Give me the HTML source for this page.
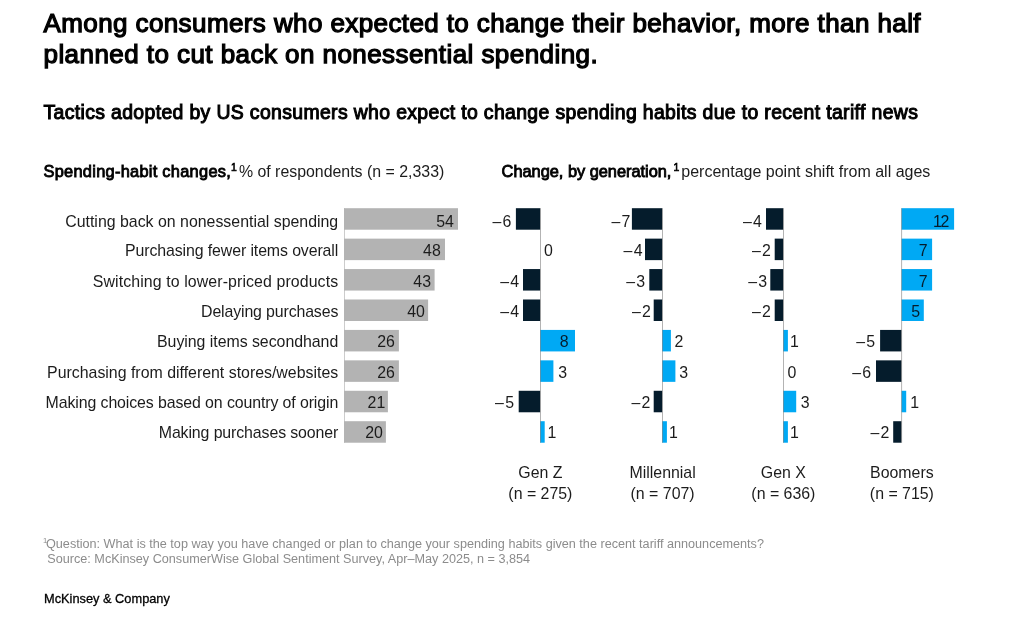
<!DOCTYPE html>
<html><head><meta charset="utf-8"><title>chart</title>
<style>
html,body{margin:0;padding:0;background:#fff;}
body{width:1023px;height:618px;position:relative;overflow:hidden;font-family:"Liberation Sans",sans-serif;color:#1c1c1c;}
.t{position:absolute;white-space:nowrap;line-height:1;}
.b{font-weight:bold;}
svg{position:absolute;left:0;top:0;}
#tx{position:absolute;left:0;top:0;width:1023px;height:618px;will-change:transform;}
.s{font-size:10.2px;font-weight:bold;position:relative;top:-6.4px;}
</style></head><body>
<svg width="1023" height="618" viewBox="0 0 1023 618">
<rect x="344.00" y="208.20" width="1.00" height="234.51" fill="#cccccc"/>
<rect x="344.00" y="208.20" width="114.00" height="21.50" fill="#b3b3b3"/>
<rect x="344.00" y="238.63" width="101.00" height="21.50" fill="#b3b3b3"/>
<rect x="344.00" y="269.06" width="90.60" height="21.50" fill="#b3b3b3"/>
<rect x="344.00" y="299.49" width="84.10" height="21.50" fill="#b3b3b3"/>
<rect x="344.00" y="329.92" width="54.90" height="21.50" fill="#b3b3b3"/>
<rect x="344.00" y="360.35" width="54.90" height="21.50" fill="#b3b3b3"/>
<rect x="344.00" y="390.78" width="43.90" height="21.50" fill="#b3b3b3"/>
<rect x="344.00" y="421.21" width="41.90" height="21.50" fill="#b3b3b3"/>
<rect x="515.90" y="208.20" width="24.30" height="21.50" fill="#051c2c"/>
<rect x="523.00" y="269.06" width="17.20" height="21.50" fill="#051c2c"/>
<rect x="523.00" y="299.49" width="17.20" height="21.50" fill="#051c2c"/>
<rect x="540.20" y="329.92" width="34.80" height="21.50" fill="#00a9f4"/>
<rect x="540.20" y="360.35" width="13.20" height="21.50" fill="#00a9f4"/>
<rect x="518.70" y="390.78" width="21.50" height="21.50" fill="#051c2c"/>
<rect x="540.20" y="421.21" width="4.50" height="21.50" fill="#00a9f4"/>
<rect x="540.0" y="208.20" width="1" height="234.51" fill="#787878" fill-opacity="0.56"/>
<rect x="631.90" y="208.20" width="30.30" height="21.50" fill="#051c2c"/>
<rect x="645.00" y="238.63" width="17.20" height="21.50" fill="#051c2c"/>
<rect x="649.30" y="269.06" width="12.90" height="21.50" fill="#051c2c"/>
<rect x="653.70" y="299.49" width="8.50" height="21.50" fill="#051c2c"/>
<rect x="662.20" y="329.92" width="8.70" height="21.50" fill="#00a9f4"/>
<rect x="662.20" y="360.35" width="13.20" height="21.50" fill="#00a9f4"/>
<rect x="653.70" y="390.78" width="8.50" height="21.50" fill="#051c2c"/>
<rect x="662.20" y="421.21" width="4.70" height="21.50" fill="#00a9f4"/>
<rect x="662.0" y="208.20" width="1" height="234.51" fill="#787878" fill-opacity="0.56"/>
<rect x="766.00" y="208.20" width="17.20" height="21.50" fill="#051c2c"/>
<rect x="774.70" y="238.63" width="8.50" height="21.50" fill="#051c2c"/>
<rect x="770.30" y="269.06" width="12.90" height="21.50" fill="#051c2c"/>
<rect x="774.70" y="299.49" width="8.50" height="21.50" fill="#051c2c"/>
<rect x="783.20" y="329.92" width="4.70" height="21.50" fill="#00a9f4"/>
<rect x="783.20" y="390.78" width="13.00" height="21.50" fill="#00a9f4"/>
<rect x="783.20" y="421.21" width="4.70" height="21.50" fill="#00a9f4"/>
<rect x="783.0" y="208.20" width="1" height="234.51" fill="#787878" fill-opacity="0.56"/>
<rect x="901.50" y="208.20" width="52.60" height="21.50" fill="#00a9f4"/>
<rect x="901.50" y="238.63" width="30.60" height="21.50" fill="#00a9f4"/>
<rect x="901.50" y="269.06" width="30.60" height="21.50" fill="#00a9f4"/>
<rect x="901.50" y="299.49" width="22.30" height="21.50" fill="#00a9f4"/>
<rect x="880.10" y="329.92" width="21.40" height="21.50" fill="#051c2c"/>
<rect x="876.00" y="360.35" width="25.50" height="21.50" fill="#051c2c"/>
<rect x="901.50" y="390.78" width="4.70" height="21.50" fill="#00a9f4"/>
<rect x="893.20" y="421.21" width="8.30" height="21.50" fill="#051c2c"/>
<rect x="901.1" y="208.20" width="1" height="234.51" fill="#787878" fill-opacity="0.56"/>
</svg>
<div id="tx">
<div class="t" style="left:43.5px;top:10px;font-size:26px;letter-spacing:0.4px;-webkit-text-stroke:1.25px #000;color:#000;">Among consumers who expected to change their behavior, more than half</div>
<div class="t" style="left:43.5px;top:41px;font-size:26px;letter-spacing:0.44px;-webkit-text-stroke:1.25px #000;color:#000;">planned to cut back on nonessential spending.</div>
<div class="t" style="left:43.5px;top:103px;font-size:19.4px;letter-spacing:0.365px;-webkit-text-stroke:1.0px #000;color:#000;">Tactics adopted by US consumers who expect to change spending habits due to recent tariff news</div>
<div class="t" style="left:43.5px;top:163px;font-size:16.4px;letter-spacing:0.27px;-webkit-text-stroke:0.85px #000;color:#000;">Spending-habit changes,</div>
<div class="t" style="left:231.0px;top:163px;font-size:10.4px;letter-spacing:0px;-webkit-text-stroke:0.6px #000;color:#000;">1</div>
<div class="t" style="top:164px;font-size:15.9px;left:238.90px;">% of respondents (n = 2,333)</div>
<div class="t" style="left:501.6px;top:163px;font-size:16.4px;letter-spacing:-0.03px;-webkit-text-stroke:0.85px #000;color:#000;">Change, by generation,</div>
<div class="t" style="left:673.4px;top:163px;font-size:10.4px;letter-spacing:0px;-webkit-text-stroke:0.6px #000;color:#000;">1</div>
<div class="t" style="top:164px;font-size:16px;left:681.30px;">percentage point shift from all ages</div>
<div class="t" style="top:214px;font-size:15.9px;right:684.80px;letter-spacing:0px;">Cutting back on nonessential spending</div>
<div class="t" style="top:214px;font-size:15.9px;right:569.13px;">54</div>
<div class="t" style="top:243px;font-size:15.9px;right:684.80px;letter-spacing:-0.107px;">Purchasing fewer items overall</div>
<div class="t" style="top:243px;font-size:15.9px;right:582.21px;">48</div>
<div class="t" style="top:274px;font-size:15.9px;right:684.80px;letter-spacing:0.1px;">Switching to lower-priced products</div>
<div class="t" style="top:274px;font-size:15.9px;right:592.00px;">43</div>
<div class="t" style="top:304px;font-size:15.9px;right:684.80px;letter-spacing:-0.135px;">Delaying purchases</div>
<div class="t" style="top:304px;font-size:15.9px;right:598.18px;">40</div>
<div class="t" style="top:334px;font-size:15.9px;right:684.80px;letter-spacing:-0.036px;">Buying items secondhand</div>
<div class="t" style="top:334px;font-size:15.9px;right:628.20px;">26</div>
<div class="t" style="top:365px;font-size:15.9px;right:684.80px;letter-spacing:0px;">Purchasing from different stores/websites</div>
<div class="t" style="top:365px;font-size:15.9px;right:628.20px;">26</div>
<div class="t" style="top:395px;font-size:15.9px;right:684.80px;letter-spacing:-0.1025px;">Making choices based on country of origin</div>
<div class="t" style="top:395px;font-size:15.9px;right:637.72px;">21</div>
<div class="t" style="top:425px;font-size:15.9px;right:684.80px;letter-spacing:-0.109px;">Making purchases sooner</div>
<div class="t" style="top:425px;font-size:15.9px;right:640.18px;">20</div>
<div class="t" style="top:214px;font-size:15.9px;right:510.50px;letter-spacing:1.2px;">–6</div>
<div class="t" style="top:243px;font-size:15.9px;left:544.08px;">0</div>
<div class="t" style="top:274px;font-size:15.9px;right:502.63px;letter-spacing:1.2px;">–4</div>
<div class="t" style="top:304px;font-size:15.9px;right:502.63px;letter-spacing:1.2px;">–4</div>
<div class="t" style="top:334px;font-size:15.9px;right:454.41px;color:#051c2c;">8</div>
<div class="t" style="top:365px;font-size:15.9px;left:558.19px;">3</div>
<div class="t" style="top:395px;font-size:15.9px;right:507.83px;letter-spacing:1.2px;">–5</div>
<div class="t" style="top:425px;font-size:15.9px;left:547.49px;">1</div>
<div class="t" style="top:465px;font-size:15.9px;left:340.40px;width:400px;text-align:center;">Gen Z</div>
<div class="t" style="top:486px;font-size:15.9px;left:340.40px;width:400px;text-align:center;">(n = 275)</div>
<div class="t" style="top:214px;font-size:15.9px;right:391.40px;letter-spacing:1.2px;">–7</div>
<div class="t" style="top:243px;font-size:15.9px;right:379.33px;letter-spacing:1.2px;">–4</div>
<div class="t" style="top:274px;font-size:15.9px;right:376.70px;letter-spacing:1.2px;">–3</div>
<div class="t" style="top:304px;font-size:15.9px;right:370.90px;letter-spacing:1.2px;">–2</div>
<div class="t" style="top:334px;font-size:15.9px;left:674.40px;">2</div>
<div class="t" style="top:365px;font-size:15.9px;left:679.19px;">3</div>
<div class="t" style="top:395px;font-size:15.9px;right:371.50px;letter-spacing:1.2px;">–2</div>
<div class="t" style="top:425px;font-size:15.9px;left:669.09px;">1</div>
<div class="t" style="top:465px;font-size:15.9px;left:462.60px;width:400px;text-align:center;">Millennial</div>
<div class="t" style="top:486px;font-size:15.9px;left:462.60px;width:400px;text-align:center;">(n = 707)</div>
<div class="t" style="top:214px;font-size:15.9px;right:259.93px;letter-spacing:1.2px;">–4</div>
<div class="t" style="top:243px;font-size:15.9px;right:250.90px;letter-spacing:1.2px;">–2</div>
<div class="t" style="top:274px;font-size:15.9px;right:254.70px;letter-spacing:1.2px;">–3</div>
<div class="t" style="top:304px;font-size:15.9px;right:250.90px;letter-spacing:1.2px;">–2</div>
<div class="t" style="top:334px;font-size:15.9px;left:790.09px;">1</div>
<div class="t" style="top:365px;font-size:15.9px;left:787.48px;">0</div>
<div class="t" style="top:395px;font-size:15.9px;left:800.69px;">3</div>
<div class="t" style="top:425px;font-size:15.9px;left:790.09px;">1</div>
<div class="t" style="top:465px;font-size:15.9px;left:583.40px;width:400px;text-align:center;">Gen X</div>
<div class="t" style="top:486px;font-size:15.9px;left:583.40px;width:400px;text-align:center;">(n = 636)</div>
<div class="t" style="top:214px;font-size:15.9px;right:75.10px;color:#051c2c;letter-spacing:-1.4px;">12</div>
<div class="t" style="top:243px;font-size:15.9px;right:95.40px;color:#051c2c;">7</div>
<div class="t" style="top:274px;font-size:15.9px;right:95.40px;color:#051c2c;">7</div>
<div class="t" style="top:304px;font-size:15.9px;right:103.03px;color:#051c2c;">5</div>
<div class="t" style="top:334px;font-size:15.9px;right:146.73px;letter-spacing:1.2px;">–5</div>
<div class="t" style="top:365px;font-size:15.9px;right:150.70px;letter-spacing:1.2px;">–6</div>
<div class="t" style="top:395px;font-size:15.9px;left:910.29px;">1</div>
<div class="t" style="top:425px;font-size:15.9px;right:132.40px;letter-spacing:1.2px;">–2</div>
<div class="t" style="top:465px;font-size:15.9px;left:701.90px;width:400px;text-align:center;">Boomers</div>
<div class="t" style="top:486px;font-size:15.9px;left:701.90px;width:400px;text-align:center;">(n = 715)</div>
<div class="t" style="top:538px;font-size:12.65px;left:43.00px;color:#8c8c8c;"><span style="font-size:7.6px;position:relative;top:-4.6px">1</span></div>
<div class="t" style="top:538px;font-size:12.65px;left:46.00px;color:#8c8c8c;">Question: What is the top way you have changed or plan to change your spending habits given the recent tariff announcements?</div>
<div class="t" style="top:553px;font-size:12.65px;left:47.30px;color:#8c8c8c;">Source: McKinsey ConsumerWise Global Sentiment Survey, Apr–May 2025, n = 3,854</div>
<div class="t" style="top:593px;font-size:12.8px;left:44.00px;color:#000;-webkit-text-stroke:0.3px #000;">McKinsey &amp; Company</div>
</div>
</body></html>
